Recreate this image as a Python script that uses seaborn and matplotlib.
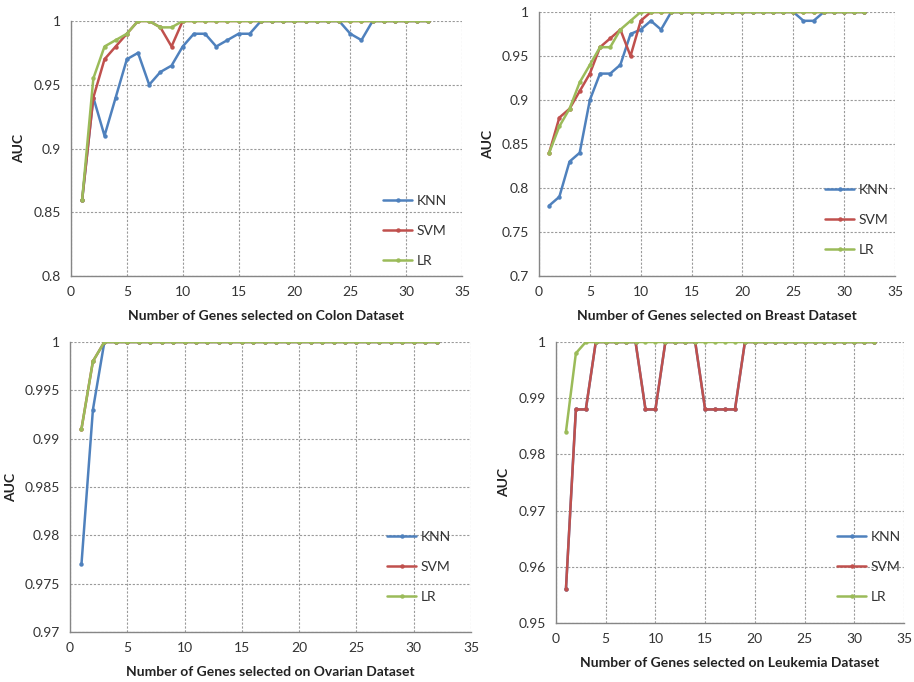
import pandas as pd
import seaborn as sns
import matplotlib.pyplot as plt
from matplotlib.ticker import FuncFormatter, MultipleLocator

genes = list(range(1, 33))

colon_knn = [0.86, 0.94, 0.91, 0.94, 0.97, 0.975, 0.95, 0.96, 0.965, 0.98, 0.99, 0.99, 0.98, 0.985, 0.99, 0.99,
             1, 1, 1, 1, 1, 1, 1, 1, 0.99, 0.985, 1, 1, 1, 1, 1, 1]
colon_svm = [0.86, 0.94, 0.97, 0.98, 0.99, 1, 1, 0.995, 0.98] + [1] * 23
colon_lr = [0.86, 0.955, 0.98, 0.985, 0.99, 1, 1, 0.995, 0.995] + [1] * 23

breast_knn = [0.78, 0.79, 0.83, 0.84, 0.90, 0.93, 0.93, 0.94, 0.975, 0.98, 0.99, 0.98,
              1, 1, 1, 1, 1, 1, 1, 1, 1, 1, 1, 1, 1, 0.99, 0.99, 1, 1, 1, 1, 1]
breast_svm = [0.84, 0.88, 0.89, 0.91, 0.93, 0.96, 0.97, 0.98, 0.95, 0.99] + [1] * 22
breast_lr = [0.84, 0.87, 0.89, 0.92, 0.94, 0.96, 0.96, 0.98, 0.99] + [1] * 23

ovarian_knn = [0.977, 0.993] + [1] * 30
ovarian_svm = [0.991, 0.998] + [1] * 30
ovarian_lr = [0.991, 0.998] + [1] * 30

leuk_svm = [0.956, 0.988, 0.988, 1, 1, 1, 1, 1, 0.988, 0.988, 1, 1, 1, 1,
            0.988, 0.988, 0.988, 0.988] + [1] * 14
leuk_knn = list(leuk_svm)
leuk_lr = [0.984, 0.998] + [1] * 30

models = ["KNN", "SVM", "LR"]
colors = {"KNN": "#4F81BD", "SVM": "#C0504D", "LR": "#9BBB59"}

panels = [
    ("Colon", [colon_knn, colon_svm, colon_lr], (0.8, 1.0), 0.05),
    ("Breast", [breast_knn, breast_svm, breast_lr], (0.7, 1.0), 0.05),
    ("Ovarian", [ovarian_knn, ovarian_svm, ovarian_lr], (0.97, 1.0), 0.005),
    ("Leukemia", [leuk_knn, leuk_svm, leuk_lr], (0.95, 1.0), 0.01),
]

# axes boxes in pixels: left, top, right, bottom
boxes = [(71, 21, 462, 276), (539, 12, 895, 276), (70, 342, 471, 632), (556, 342, 904, 623)]
legend_px = [(383, 195), (825, 184), (387, 531), (837, 531)]
ylab_off = [46, 45, 53, 46]
W, H = 914, 682

sns.set_style("white")
plt.rcParams['font.family'] = ['Lato', 'DejaVu Sans']

fig = plt.figure(figsize=(9.14, 6.82), dpi=100)
for (name, series, ylim, ystep), (l, t, r, b), (lx, ly), yo in zip(panels, boxes, legend_px, ylab_off):
    ax = fig.add_axes([l / W, 1 - b / H, (r - l) / W, (b - t) / H])
    df = pd.DataFrame({
        "genes": genes * 3,
        "auc": series[0] + series[1] + series[2],
        "model": sum([[m] * len(genes) for m in models], []),
    })
    sns.lineplot(data=df, x="genes", y="auc", hue="model", hue_order=models, palette=colors,
                 marker="o", markersize=3.2, markeredgewidth=0, linewidth=1.8, ax=ax)
    ax.set_xlim(0, 35)
    ax.set_ylim(*ylim)
    ax.xaxis.set_major_locator(MultipleLocator(5))
    ax.yaxis.set_major_locator(MultipleLocator(ystep))
    ax.yaxis.set_major_formatter(FuncFormatter(lambda v, p: f"{round(v, 4):g}"))
    ax.grid(True, color="#9a9a9a", linestyle=(0, (2, 1.5)), linewidth=0.8)
    for s in ["top", "right"]:
        ax.spines[s].set_visible(False)
    for s in ["left", "bottom"]:
        ax.spines[s].set_color("#868686")
        ax.spines[s].set_linewidth(1.0)
    ax.tick_params(axis="both", direction="out", length=4, width=1, color="#868686",
                   labelsize=10, labelcolor="#333333", pad=3)
    ax.set_xlabel(f"Number of Genes selected on {name} Dataset", fontsize=10, fontweight="bold", color="#222222")
    ax.set_ylabel("AUC", fontsize=10, fontweight="bold", color="#222222")
    ax.xaxis.set_label_coords(0.5, -34 / (b - t))
    ax.yaxis.set_label_coords(-yo / (r - l), 0.5)
    ax.legend(frameon=False, loc="upper left", bbox_to_anchor=(lx / W, 1 - ly / H),
              bbox_transform=fig.transFigure, borderpad=0, borderaxespad=0,
              handlelength=2.1, handletextpad=0.3, labelspacing=1.3, fontsize=10,
              labelcolor="#333333")

fig.savefig("out.png", dpi=100)
